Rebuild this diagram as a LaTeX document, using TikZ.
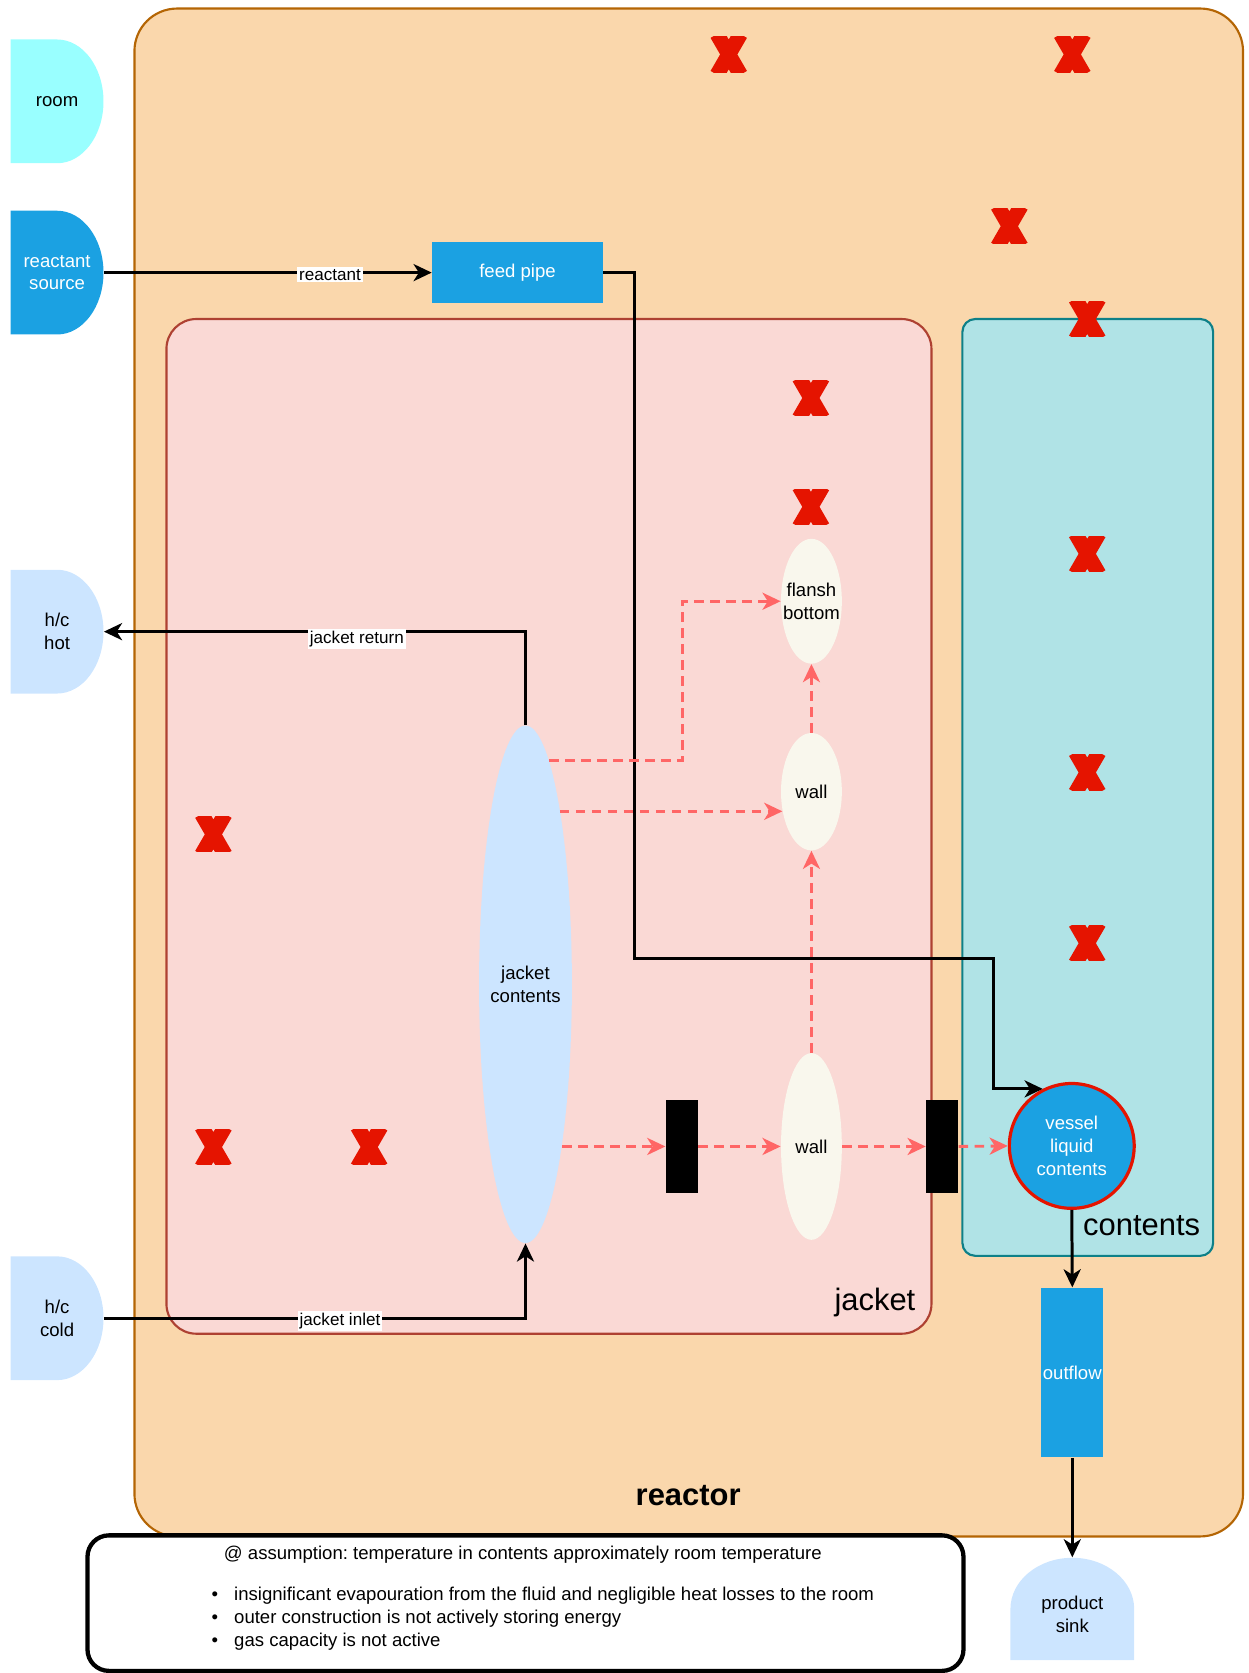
\documentclass[tikz,border=0pt]{standalone}
\usepackage{fontspec}
\setmainfont{Liberation Sans}
\usetikzlibrary{
    arrows.meta,     % arrow tips
    shapes.geometric % ellipse nodes
}

\definecolor{reactorfill}{HTML}{FAD7AC}
\definecolor{reactorline}{HTML}{B46504}
\definecolor{jacketfill}{HTML}{FAD9D5}
\definecolor{jacketline}{HTML}{AE4132}
\definecolor{contfill}{HTML}{B0E3E6}
\definecolor{contline}{HTML}{0E8088}
\definecolor{roomcyan}{HTML}{99FFFF}
\definecolor{pipeblue}{HTML}{1BA1E2}
\definecolor{paleblue}{HTML}{CCE5FF}
\definecolor{wallcream}{HTML}{F9F7ED}
\definecolor{heatred}{HTML}{FF6666}
\definecolor{crossred}{HTML}{E51400}

\newcommand{\nodefont}{\fontsize{8.7}{10.75}\selectfont}
\newcommand{\edgefont}{\fontsize{8}{9.5}\selectfont}
\newcommand{\bigfont}{\fontsize{14.5}{17}\selectfont}
\frenchspacing

\begin{document}
\begin{tikzpicture}[
    x=0.5pt, y=-0.5pt,
    font=\nodefont,
    srcbox/.style={minimum width=43.5pt, minimum height=58pt, inner sep=0pt, align=center,
        path picture={\fill[#1] (path picture bounding box.north west)
            -- (path picture bounding box.north)
            arc[start angle=90, end angle=-90, x radius=21.75pt, y radius=29pt]
            -- (path picture bounding box.south west) -- cycle;}},
    sinkbox/.style={minimum width=58pt, minimum height=48pt, inner sep=0pt, align=center,
        path picture={\fill[#1] (path picture bounding box.south west)
            -- (path picture bounding box.west)
            arc[start angle=180, end angle=0, x radius=29pt, y radius=24pt]
            -- (path picture bounding box.south east) -- cycle;}},
    pipe/.style={rectangle, fill=pipeblue, text=white, inner sep=0pt},
    wallnode/.style={ellipse, fill=wallcream, minimum width=28.5pt, inner xsep=-6pt, inner ysep=0pt, align=center},
    plate/.style={rectangle, fill=black, minimum width=15pt, minimum height=43.5pt, inner sep=0pt},
    xmark/.style={minimum width=17.5pt, minimum height=16.5pt, inner sep=0pt,
        path picture={\draw[crossred, line width=7pt, shift={(path picture bounding box.center)}]
            (-11,-19) -- (11,19) (11,-19) -- (-11,19);}},
    elabel/.style={fill=white, inner sep=1pt, font=\edgefont},
    flow/.style={draw=black, line width=1.4pt, -{Stealth[length=8.5pt, width=8pt, inset=2.5pt]}},
    heat/.style={draw=heatred, line width=1.35pt, dash pattern=on 4.5pt off 3pt,
        -{Stealth[length=8.5pt, width=8pt, inset=2.5pt]}}
]
    \useasboundingbox (0,0) rectangle (1170,1568);

    % reactor, jacket and contents boxes
    \draw[draw=reactorline, fill=reactorfill, line width=1pt, rounded corners=20pt] (126,8) rectangle (1165,1440);
    \draw[draw=jacketline, fill=jacketfill, line width=1pt, rounded corners=14pt] (156,299) rectangle (873,1250);
    \draw[draw=contline, fill=contfill, line width=1pt, rounded corners=6pt] (902,299) rectangle (1137,1177);
    \node[font=\bigfont\bfseries] (reactorlbl) at (645,1402) {reactor};
    \node[font=\bigfont] (jacketlbl) at (820,1221) {jacket};
    \node[font=\bigfont] (contlbl) at (1070,1149) {contents};

    % red crosses
    \foreach \px/\py [count=\i] in {683/51, 1005/51, 946/212, 1019/299, 760/373, 760/475,
        1019/519, 1019/724, 1019/884, 200/782, 200/1075, 346/1075}
        \node[xmark] (cross\i) at (\px,\py) {};

    % sources and sinks outside
    \node[srcbox=roomcyan] (room) at (53.5,95) {room};
    \node[srcbox=pipeblue, text=white] (src) at (53.5,255.5) {reactant\\source};
    \node[srcbox=paleblue] (hot) at (53.5,592) {h/c\\hot};
    \node[srcbox=paleblue] (cold) at (53.5,1235.5) {h/c\\cold};
    \node[sinkbox=paleblue] (sink) at (1005,1508) {\rule{0pt}{11.3pt}product\\sink};

    % inner parts
    \node[pipe, minimum width=80pt, minimum height=28.5pt] (feed) at (485,255.5) {feed pipe};
    \node[ellipse, fill=paleblue, minimum width=43.5pt, minimum height=242.5pt,
        inner xsep=-4pt, inner ysep=0pt, align=center] (jcont) at (492.5,922.5) {jacket\\contents};
    \node[wallnode, minimum height=58.5pt] (flansh) at (760.5,563.5) {flansh\\bottom};
    \node[wallnode, minimum height=55pt] (wallup) at (760.5,742) {wall};
    \node[wallnode, minimum height=87.5pt] (walllow) at (760.5,1074.5) {wall};
    \node[plate] (blk1) at (639,1074.5) {};
    \node[plate] (blk2) at (883,1074.5) {};
    \node[circle, fill=pipeblue, draw=crossred, line width=1.5pt, text=white, minimum size=58.5pt,
        inner sep=0pt, align=center] (vessel) at (1004.5,1074) {vessel\\liquid\\contents};
    \node[pipe, minimum width=29pt, minimum height=79.5pt] (outflow) at (1005,1286.5) {outflow};

    % mass flows
    \draw[flow] (src.east) -- node[elabel, pos=0.69, yshift=-1pt] {reactant} (feed.west);
    \draw[flow] (feed.east) -| (595,898) -- (931,898) |- (vessel.117);
    \draw[flow] (jcont.north) |- node[elabel, pos=0.7, yshift=-3.5pt] {jacket return} (hot.east);
    \draw[flow] (cold.east) -| node[elabel, pos=0.28, yshift=-1.2pt] {jacket inlet} (jcont.south);
    \draw[flow] (vessel.south) -- (outflow.north);
    \draw[flow] (outflow.south) -- (sink.north);

    % heat flows
    \draw[heat] (jcont.84) -- ++(125,0) |- (flansh.west);
    \draw[heat] (jcont.79 |- wallup.214) -- (wallup.214);
    \draw[heat] (jcont.283 |- blk1.west) -- (blk1.west);
    \draw[heat] (blk1.east) -- (walllow.west);
    \draw[heat] (walllow.east) -- (blk2.west);
    \draw[heat] (blk2.east) -- (vessel.west);
    \draw[heat] (walllow.north) -- (wallup.south);
    \draw[heat] (wallup.north) -- (flansh.south);

    % assumption box
    \node[draw=black, fill=white, line width=2pt, rounded corners=10pt,
        minimum width=410.5pt, minimum height=63.5pt] (note) at (492.5,1502.5) {};
    \node (asm) at (490,1457) {@ assumption: temperature in contents approximately room temperature};
    \node[anchor=base west, inner sep=0pt] (b1) at (198,1500)
        {\textbullet\hspace{7.5pt}insignificant evapouration from the fluid and negligible heat losses to the room};
    \node[anchor=base west, inner sep=0pt] (b2) at (198,1521.5)
        {\textbullet\hspace{7.5pt}outer construction is not actively storing energy};
    \node[anchor=base west, inner sep=0pt] (b3) at (198,1543)
        {\textbullet\hspace{7.5pt}gas capacity is not active};
\end{tikzpicture}
\end{document}
